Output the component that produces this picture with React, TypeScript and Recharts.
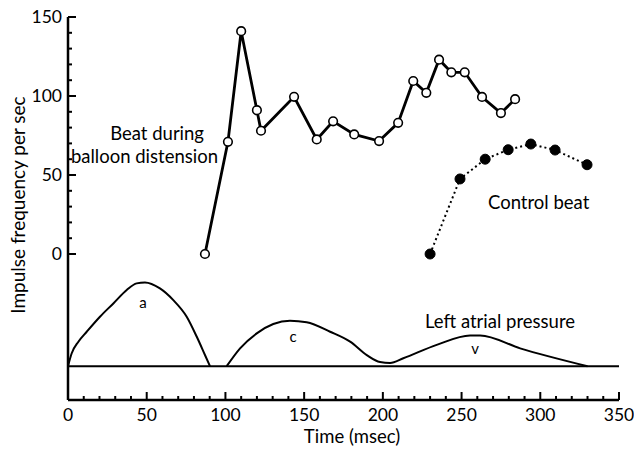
import React from "react"
import { LineChart, Line, XAxis, YAxis, ReferenceLine, Customized } from "recharts"

// impulse frequency during balloon distension (open circles)
const beatTime = [87, 101.6, 110, 120, 122.6, 143.6, 158, 168.4, 181.8, 197.6, 209.7, 219.3, 227.6, 235.7, 243.5, 252, 263, 275, 284]
const beatFreq = [0, 71, 141, 91, 78, 99.5, 72.5, 84, 75.7, 71.5, 83, 109.5, 102, 123, 115, 115, 99.4, 89.2, 98]

// control beat (filled circles)
const controlTime = [230, 249, 265, 279.6, 294, 309.4, 329.7]
const controlFreq = [0, 47.5, 60, 66, 69.6, 65.8, 56.5]

// left atrial pressure trace, drawn below the zero line
const pressureBase = -71
const aWaveTime = [0, 2.3, 6.6, 11.9, 20.3, 28.8, 37.3, 43.6, 48.9, 58.4, 66.9, 75.4, 81.8, 87, 90.2]
const aWaveLevel = [-71, -63, -55.5, -49.2, -39.7, -31.3, -22.8, -18.6, -18, -21.8, -29.2, -39.7, -52.4, -63.9, -71]
const cvWaveTime = [100.8, 109.3, 119.9, 130.4, 141, 151.6, 166.5, 179.2, 189.8, 198.2, 204.6, 213, 234.2, 255.4, 261.8, 287.2, 330]
const cvWaveLevel = [-71, -59.7, -50.2, -44.3, -42.2, -43.2, -49.2, -55.5, -64, -68.4, -69, -66, -57.5, -51.5, -51.5, -59.7, -71]

const xTicks = [0, 10, 20, 30, 40, 50, 60, 70, 80, 90, 100, 110, 120, 130, 140, 150, 160, 170, 180, 190, 200, 210, 220, 230, 240, 250, 260, 270, 280, 290, 300, 310, 320, 330, 340, 350]
const yTicks = [0, 10, 20, 30, 40, 50, 60, 70, 80, 90, 100, 110, 120, 130, 140, 150]

const zip = (xs: number[], ys: number[]) => xs.map((x, i) => ({ x, y: ys[i] }))

const beatData = zip(beatTime, beatFreq)
const controlData = zip(controlTime, controlFreq)
const aWaveData = zip(aWaveTime, aWaveLevel)
const cvWaveData = zip(cvWaveTime, cvWaveLevel)

const FONT = "Lato, 'Open Sans', sans-serif"

function XTick(props: any) {
  const { x, y, payload } = props
  const major = payload.value % 50 === 0
  return (
    <g>
      <line x1={x} x2={x} y1={y} y2={y - (major ? 8 : 4)} stroke="#000" strokeWidth={2} />
      {major && (
        <text x={x} y={y + 21} textAnchor="middle" fontSize={17.5} fontFamily={FONT} fill="#000">
          {payload.value}
        </text>
      )}
    </g>
  )
}

function YTick(props: any) {
  const { x, y, payload } = props
  const major = payload.value % 50 === 0
  return (
    <g>
      <line x1={x} x2={x + (major ? 8 : 4)} y1={y} y2={y} stroke="#000" strokeWidth={2} />
      {major && (
        <text x={x - 6} y={y + 6} textAnchor="end" fontSize={17.5} fontFamily={FONT} fill="#000">
          {payload.value}
        </text>
      )}
    </g>
  )
}

function Annotations() {
  const t = { fontSize: 18.5, fontFamily: FONT, fill: "#000" }
  return (
    <g>
      <text {...t} x={204} y={140} textAnchor="end">Beat during</text>
      <text {...t} x={218} y={163} textAnchor="end">balloon distension</text>
      <text {...t} x={488} y={209}>Control beat</text>
      <text {...t} x={425} y={328}>Left atrial pressure</text>
      <text {...t} x={143} y={308} fontSize={15} textAnchor="middle">a</text>
      <text {...t} x={293} y={342} fontSize={15} textAnchor="middle">c</text>
      <text {...t} x={475} y={354} fontSize={15} textAnchor="middle">v</text>
      <text {...t} x={352} y={443} textAnchor="middle">Time (msec)</text>
      <text {...t} x={0} y={0} fontSize={19} textAnchor="middle" transform="translate(25,205) rotate(-90)">
        Impulse frequency per sec
      </text>
    </g>
  )
}

export default function App() {
  return (
    <div style={{ position: "absolute", left: 0, top: 0, background: "#fff" }}>
      <LineChart width={634} height={450} margin={{ top: 17, right: 15, bottom: 0, left: 0 }}>
        <XAxis
          type="number"
          dataKey="x"
          domain={[0, 350]}
          ticks={xTicks}
          interval={0}
          height={50}
          tickSize={0}
          tickMargin={0}
          tick={<XTick />}
          axisLine={{ stroke: "#000", strokeWidth: 2.5 }}
          allowDuplicatedCategory={false}
        />
        <YAxis
          type="number"
          dataKey="y"
          domain={[-92.4, 150]}
          ticks={yTicks}
          interval={0}
          width={68}
          tickSize={0}
          tickMargin={0}
          tick={<YTick />}
          axisLine={{ stroke: "#000", strokeWidth: 2.5 }}
          allowDataOverflow
        />
        <ReferenceLine y={pressureBase} stroke="#000" strokeWidth={2} />
        <Line data={aWaveData} dataKey="y" type="monotone" stroke="#000" strokeWidth={2} dot={false} isAnimationActive={false} />
        <Line data={cvWaveData} dataKey="y" type="monotone" stroke="#000" strokeWidth={2} dot={false} isAnimationActive={false} />
        <Line
          data={controlData}
          dataKey="y"
          type="linear"
          stroke="#000"
          strokeWidth={2}
          strokeDasharray="2 3"
          dot={{ r: 5, fill: "#000", stroke: "#000", strokeWidth: 1, strokeDasharray: "" }}
          isAnimationActive={false}
        />
        <Line
          data={beatData}
          dataKey="y"
          type="linear"
          stroke="#000"
          strokeWidth={2.8}
          dot={{ r: 4.3, fill: "#fff", stroke: "#000", strokeWidth: 1.6 }}
          isAnimationActive={false}
        />
        <Customized component={<Annotations />} />
      </LineChart>
    </div>
  )
}
